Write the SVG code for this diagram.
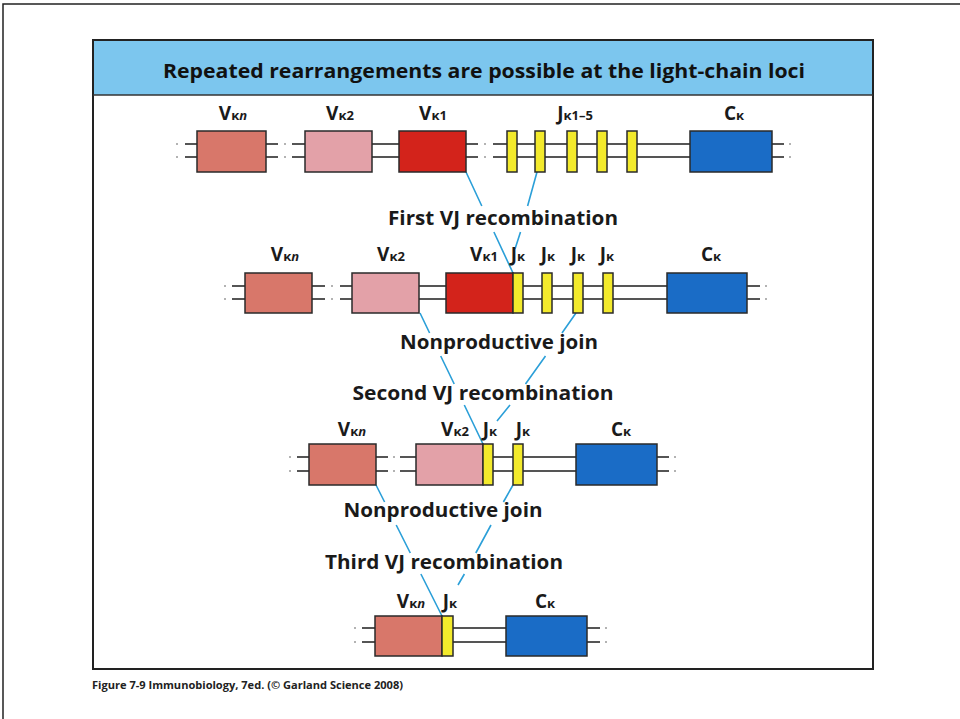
<svg xmlns="http://www.w3.org/2000/svg" width="960" height="719" viewBox="0 0 960 719">
  <style>
    .dna { stroke: #1e1e1e; stroke-width: 1.6; fill: none; }
    .brk { stroke: #9a9a9a; stroke-width: 1.4; fill: none; }
    .box { stroke: #2a2a2a; stroke-width: 1.5; }
    .vn { fill: #d8776a; }
    .v2 { fill: #e3a1a8; }
    .v1 { fill: #d3231b; }
    .j { fill: #f3ea2c; }
    .c { fill: #1a6cc6; }
    .lnk { stroke: #2b9fd8; stroke-width: 1.6; fill: none; }
    .lbl { font-family: "Open Sans", "Liberation Sans", sans-serif; font-weight: 700; font-size: 19px; fill: #1a1a1a; text-anchor: middle; }
    .sub { font-size: 13px; }
    .mid { font-family: "Open Sans", "Liberation Sans", sans-serif; font-weight: 700; font-size: 19px; fill: #1a1a1a; text-anchor: middle; }
    .title { font-family: "Open Sans", "Liberation Sans", sans-serif; font-weight: 700; font-size: 20px; fill: #111; text-anchor: middle; }
    .cap { font-family: "Open Sans", "Liberation Sans", sans-serif; font-weight: 700; font-size: 10.5px; fill: #222; }
  </style>

  <rect width="960" height="719" fill="#ffffff"/>
  <!-- page edge -->
  <path d="M3 719 V4 H960" fill="none" stroke="#222" stroke-width="1.5"/>

  <!-- panel and title band -->
  <g id="panel">
    <rect x="93" y="40" width="780" height="629" fill="#ffffff" stroke="#222" stroke-width="2"/>
    <rect x="94" y="41" width="778" height="54" fill="#7cc6ee"/>
    <line x1="93" y1="95" x2="873" y2="95" stroke="#333" stroke-width="1.5"/>
    <text class="title" x="484" y="78" textLength="642" lengthAdjust="spacingAndGlyphs">Repeated rearrangements are possible at the light-chain loci</text>
  </g>

  <!-- DNA strands -->
  <g id="strands">
    <!-- germline locus -->
    <path class="dna" d="M185 144H197M266 144H278M292 144H305M372 144H399M466 144H478M493 144H690M772 144H784"/>
    <path class="dna" d="M185 157H197M266 157H278M292 157H305M372 157H399M466 157H478M493 157H690M772 157H784"/>
    <path class="brk" d="M176 144h2M176 157h2M284 144h2M284 157h2M484 144h2M484 157h2M789 144h2M789 157h2"/>
    <!-- after first recombination -->
    <path class="dna" d="M232 286H245M312 286H325M340 286H352M419 286H446M523 286H667M747 286H760"/>
    <path class="dna" d="M232 299H245M312 299H325M340 299H352M419 299H446M523 299H667M747 299H760"/>
    <path class="brk" d="M224 286h2M224 299h2M331 286h2M331 299h2M765 286h2M765 299h2"/>
    <!-- after second recombination -->
    <path class="dna" d="M297 457H309M376 457H388M400 457H416M493 457H576M657 457H669"/>
    <path class="dna" d="M297 471H309M376 471H388M400 471H416M493 471H576M657 471H669"/>
    <path class="brk" d="M289 457h2M289 471h2M393 457h2M393 471h2M674 457h2M674 471h2"/>
    <!-- after third recombination -->
    <path class="dna" d="M362 628H375M453 628H506M587 628H600"/>
    <path class="dna" d="M362 642H375M453 642H506M587 642H600"/>
    <path class="brk" d="M354 628h2M354 642h2M605 628h2M605 642h2"/>
  </g>

  <!-- recombination connectors -->
  <g id="connectors">
    <path class="lnk" d="M466 172L481.8 206M493.9 232L513 273"/>
    <path class="lnk" d="M537 172L527.6 206M520.5 232L515 249"/>
    <path class="lnk" d="M420 313L429.6 333M440.7 356L454.2 384M464.3 405L483 444"/>
    <path class="lnk" d="M576 313L562 333M545.5 356L525.5 384M510 405L497 421"/>
    <path class="lnk" d="M376 485L384.6 502M396.2 525L410.3 553M420.9 574L442 616"/>
    <path class="lnk" d="M513 485L503.4 502M491 525L475.8 553M464.4 574L458 585"/>
  </g>

  <!-- germline locus -->
  <g id="row1-vkn"><rect class="box vn" x="197" y="131" width="69" height="41"/><text class="lbl" x="233" y="120">V<tspan class="sub">κ<tspan font-style="italic">n</tspan></tspan></text></g>
  <g id="row1-vk2"><rect class="box v2" x="305" y="131" width="67" height="41"/><text class="lbl" x="340" y="120">V<tspan class="sub">κ2</tspan></text></g>
  <g id="row1-vk1"><rect class="box v1" x="399" y="131" width="67" height="41"/><text class="lbl" x="433" y="120">V<tspan class="sub">κ1</tspan></text></g>
  <g id="row1-jk">
    <rect class="box j" x="507" y="131" width="10" height="41"/>
    <rect class="box j" x="535" y="131" width="10" height="41"/>
    <rect class="box j" x="567" y="131" width="10" height="41"/>
    <rect class="box j" x="597" y="131" width="10" height="41"/>
    <rect class="box j" x="627" y="131" width="10" height="41"/>
    <text class="lbl" x="575" y="120">J<tspan class="sub">κ1–5</tspan></text>
  </g>
  <g id="row1-ck"><rect class="box c" x="690" y="131" width="82" height="41"/><text class="lbl" x="734" y="120">C<tspan class="sub">κ</tspan></text></g>

  <g id="step1"><text class="mid" x="503" y="225" textLength="230" lengthAdjust="spacingAndGlyphs">First VJ recombination</text></g>

  <!-- after first recombination -->
  <g id="row2-vkn"><rect class="box vn" x="245" y="273" width="67" height="40"/><text class="lbl" x="285" y="261">V<tspan class="sub">κ<tspan font-style="italic">n</tspan></tspan></text></g>
  <g id="row2-vk2"><rect class="box v2" x="352" y="273" width="67" height="40"/><text class="lbl" x="391" y="261">V<tspan class="sub">κ2</tspan></text></g>
  <g id="row2-vk1jk">
    <rect class="box v1" x="446" y="273" width="67" height="40"/>
    <rect class="box j" x="513" y="273" width="10" height="40"/>
    <text class="lbl" x="484" y="261">V<tspan class="sub">κ1</tspan></text>
    <text class="lbl" x="518" y="261">J<tspan class="sub">κ</tspan></text>
  </g>
  <g id="row2-jk">
    <rect class="box j" x="542" y="273" width="10" height="40"/>
    <rect class="box j" x="573" y="273" width="10" height="40"/>
    <rect class="box j" x="603" y="273" width="10" height="40"/>
    <text class="lbl" x="548" y="261">J<tspan class="sub">κ</tspan></text>
    <text class="lbl" x="578" y="261">J<tspan class="sub">κ</tspan></text>
    <text class="lbl" x="607" y="261">J<tspan class="sub">κ</tspan></text>
  </g>
  <g id="row2-ck"><rect class="box c" x="667" y="273" width="80" height="40"/><text class="lbl" x="711" y="261">C<tspan class="sub">κ</tspan></text></g>

  <g id="note1"><text class="mid" x="499" y="349" textLength="198" lengthAdjust="spacingAndGlyphs">Nonproductive join</text></g>
  <g id="step2"><text class="mid" x="483" y="400" textLength="261" lengthAdjust="spacingAndGlyphs">Second VJ recombination</text></g>

  <!-- after second recombination -->
  <g id="row3-vkn"><rect class="box vn" x="309" y="444" width="67" height="41"/><text class="lbl" x="352" y="436">V<tspan class="sub">κ<tspan font-style="italic">n</tspan></tspan></text></g>
  <g id="row3-vk2jk">
    <rect class="box v2" x="416" y="444" width="67" height="41"/>
    <rect class="box j" x="483" y="444" width="10" height="41"/>
    <text class="lbl" x="455" y="436">V<tspan class="sub">κ2</tspan></text>
    <text class="lbl" x="490" y="436">J<tspan class="sub">κ</tspan></text>
  </g>
  <g id="row3-jk">
    <rect class="box j" x="513" y="444" width="10" height="41"/>
    <text class="lbl" x="523" y="436">J<tspan class="sub">κ</tspan></text>
  </g>
  <g id="row3-ck"><rect class="box c" x="576" y="444" width="81" height="41"/><text class="lbl" x="621" y="436">C<tspan class="sub">κ</tspan></text></g>

  <g id="note2"><text class="mid" x="443" y="517" textLength="199" lengthAdjust="spacingAndGlyphs">Nonproductive join</text></g>
  <g id="step3"><text class="mid" x="444" y="569" textLength="238" lengthAdjust="spacingAndGlyphs">Third VJ recombination</text></g>

  <!-- after third recombination -->
  <g id="row4-vknjk">
    <rect class="box vn" x="375" y="616" width="67" height="40"/>
    <rect class="box j" x="442" y="616" width="11" height="40"/>
    <text class="lbl" x="411" y="608">V<tspan class="sub">κ<tspan font-style="italic">n</tspan></tspan></text>
    <text class="lbl" x="450" y="608">J<tspan class="sub">κ</tspan></text>
  </g>
  <g id="row4-ck"><rect class="box c" x="506" y="616" width="81" height="40"/><text class="lbl" x="545" y="608">C<tspan class="sub">κ</tspan></text></g>

  <g id="caption"><text class="cap" x="92" y="689" textLength="311" lengthAdjust="spacingAndGlyphs">Figure 7-9  Immunobiology, 7ed. (© Garland Science 2008)</text></g>
</svg>
